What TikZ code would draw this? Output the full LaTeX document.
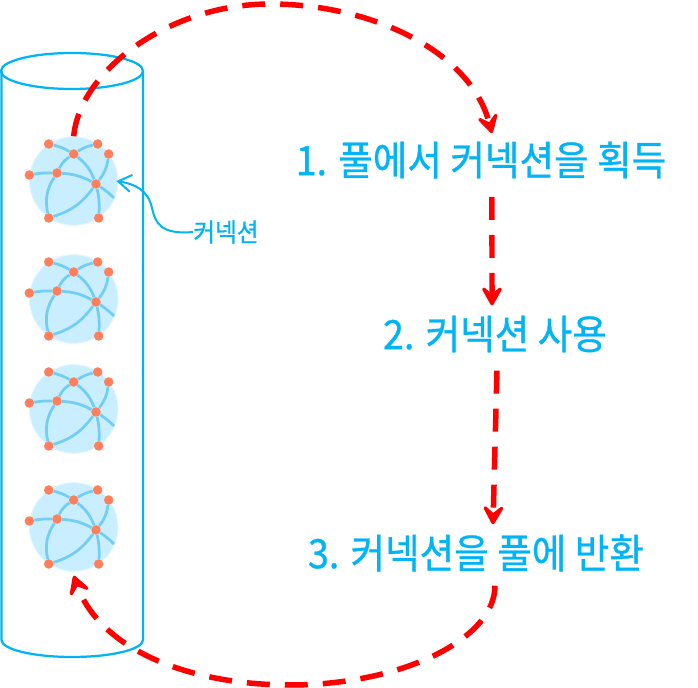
\documentclass[tikz,border=0pt]{standalone}
\usepackage{fontspec}
\setmainfont{Noto Sans CJK KR}
\newfontfamily\stepfont[FakeBold=0.8, FakeStretch=0.93]{Noto Sans CJK KR}
\usetikzlibrary{arrows.meta, positioning, calc, backgrounds}
\definecolor{poolblue}{HTML}{00B4F5}
\definecolor{globefill}{HTML}{C9EEFF}
\definecolor{globeline}{HTML}{72CEF2}
\definecolor{dotred}{HTML}{FF7F5C}

\begin{document}
\begin{tikzpicture}[x=0.02cm, y=-0.02cm]
    \tikzstyle{pool} = [draw=poolblue, line width=0.045cm]
    \tikzstyle{globe} = [circle, fill=globefill, draw=globefill!60, line width=0.02cm, minimum size=1.77cm, inner sep=0pt]
    \tikzstyle{dot} = [circle, fill=dotred, minimum size=0.19cm, inner sep=0pt]
    \tikzstyle{link} = [draw=globeline, line width=0.055cm]
    \tikzstyle{stepname} = [text=poolblue, font=\stepfont\fontsize{23pt}{26pt}\selectfont, inner sep=0pt]
    \tikzstyle{flow} = [draw=red, line width=0.11cm, dash pattern=on 0.46cm off 0.3cm, -{Stealth[length=0.5cm, width=0.56cm, inset=0.24cm, round]}]
    \useasboundingbox (0, 0) rectangle (698, 688);

    % pool
    \draw[pool] (143, 71) arc[start angle=0, end angle=360, x radius=71, y radius=18];
    \draw[pool] (1.5, 71) -- (1.5, 640) arc[start angle=180, end angle=360, x radius=70.75, y radius=-17] -- (143, 71);

    % connections
    \foreach \g/\cy in {globeA/181, globeB/299, globeC/409, globeD/527} {
        \node[dot] (\g-a) at (48.7, \cy-37) {};
        \node[dot] (\g-b) at (97.7, \cy-37) {};
        \node[dot] (\g-c) at (73.7, \cy-27) {};
        \node[dot] (\g-d) at (108.7, \cy-27) {};
        \node[dot] (\g-e) at (29.3, \cy-6) {};
        \node[dot] (\g-f) at (57, \cy-8) {};
        \node[dot] (\g-g) at (96, \cy+3) {};
        \node[dot] (\g-h) at (48.7, \cy+37) {};
        \node[dot] (\g-i) at (98.7, \cy+37) {};
        \coordinate (\g-j) at (114, \cy+17);
        \begin{scope}[on background layer]
            \node[globe] (\g) at (73.7, \cy) {};
            \draw[link] (\g-a) to[bend left=8] (\g-c);
            \draw[link] (\g-c) to[bend left=10] (\g-b);
            \draw[link] (\g-c) to[bend left=15] (\g-g);
            \draw[link] (\g-c) to[bend right=15] (\g-f);
            \draw[link] (\g-e) to[bend left=5] (\g-f);
            \draw[link] (\g-f) to[bend left=12] (\g-g);
            \draw[link] (\g-f) to[bend right=22] (\g-h);
            \draw[link] (\g-h) to[bend right=18] (\g-g);
            \draw[link] (\g-g) to[bend left=8] (\g-i);
            \draw[link] (\g-g) to[bend right=15] (\g-d);
            \draw[link] (\g-g) to[bend left=5] (\g-j);
        \end{scope}
    }

    % steps
    \node[stepname] (step1) at (481, 160) {1. 풀에서 커넥션을 획득};
    \node[stepname] (step2) at (495, 334) {2. 커넥션 사용};
    \node[stepname] (step3) at (476, 553) {3. 커넥션을 풀에 반환};
    \node[text=poolblue, font=\stepfont\fontsize{14.5pt}{16pt}\selectfont, inner sep=0pt] (label) at (226, 232) {커넥션};

    % callout
    \draw[draw=poolblue, line width=0.04cm, -{Straight Barb[length=0.26cm, width=0.34cm]}] (label.west) .. controls (160, 235) and (155, 222) .. (152, 208) .. controls (148, 190) and (135, 184) .. ([xshift=-0.04cm]globeA.east);

    % flow
    \draw[flow] (globeA.north) .. controls (80, 70) and (170, 4) .. (270, 4) .. controls (370, 4) and (470, 50) .. ([xshift=0.22cm, yshift=0.16cm]step1.north);
    \draw[flow] ([xshift=0.22cm, yshift=-0.36cm]step1.south) -- ([yshift=0.2cm, xshift=-0.06cm]step2.north);
    \draw[flow] ([xshift=0.04cm, yshift=-0.36cm]step2.south) -- ([xshift=0.34cm, yshift=0.2cm]step3.north);
    \draw[flow] ([xshift=0.38cm, yshift=-0.28cm]step3.south) .. controls (495, 640) and (400, 685) .. (290, 685) .. controls (190, 685) and (100, 650) .. ([yshift=-0.08cm]globeD.south);
\end{tikzpicture}
\end{document}
